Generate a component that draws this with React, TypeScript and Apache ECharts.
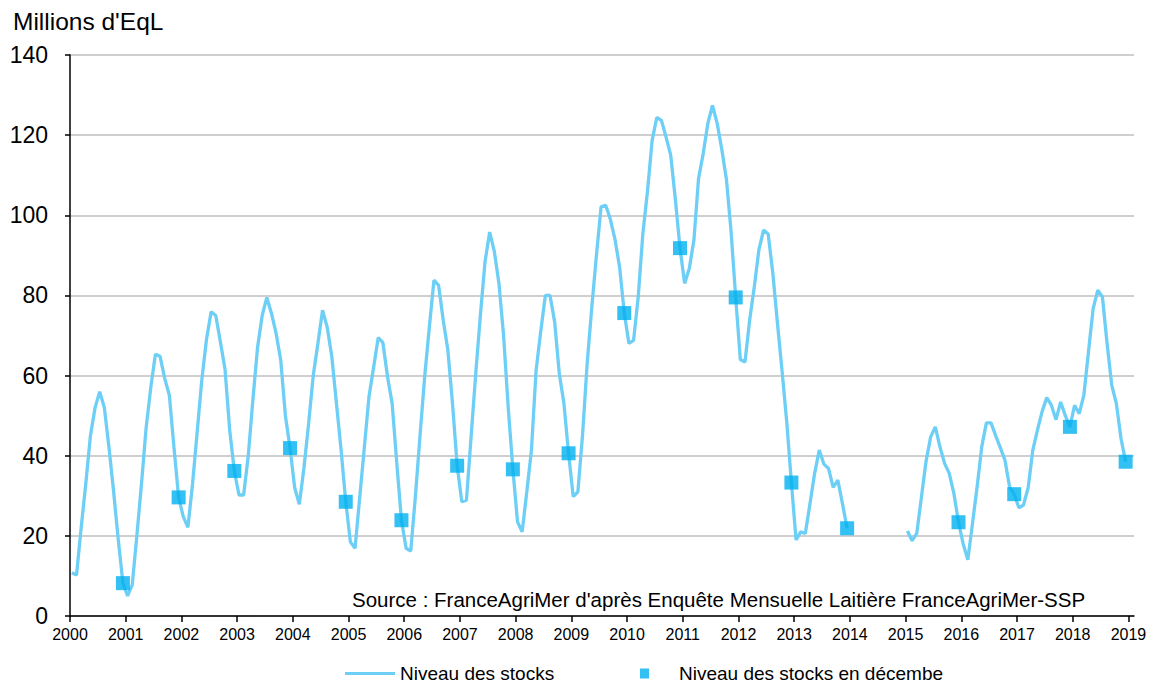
import React, { useEffect, useRef } from "react";
import * as echarts from "echarts";

// Years covered by the monthly series (Jan..Dec each)
const years = [2000, 2001, 2002, 2003, 2004, 2005, 2006, 2007, 2008, 2009, 2010, 2011, 2012, 2013, 2014, 2015, 2016, 2017, 2018];

// Monthly stock levels (millions d'EqL), Jan..Dec
const stocks2000 = [10.8, 10.2, 22, 33, 45, 52, 56, 52, 42, 31, 19, 8.2];
const stocks2001 = [5.0, 7.7, 20, 33, 47, 57, 65.3, 64.8, 59.3, 55.1, 42, 29.6];
const stocks2002 = [24.8, 22.1, 33, 46, 59, 69, 75.9, 75.0, 68.4, 61.5, 46.4, 36.2];
const stocks2003 = [30.2, 30.2, 40, 54, 67, 75, 79.5, 75.5, 70.5, 63.8, 50, 41.9];
const stocks2004 = [32, 27.9, 37, 48, 60, 68, 76.3, 72.1, 64.7, 53, 41.4, 28.5];
const stocks2005 = [18.5, 16.9, 29.5, 42, 54.7, 62, 69.5, 68.2, 59.7, 53, 38, 23.9];
const stocks2006 = [16.9, 16.2, 29.8, 45, 59.7, 72, 83.8, 82.5, 73.8, 66.3, 53, 37.5];
const stocks2007 = [28.5, 28.9, 44.7, 60.5, 75, 88.4, 95.8, 91, 83, 70, 52, 36.6];
const stocks2008 = [23.5, 21.0, 31, 41.4, 61.3, 71, 80, 80, 73.4, 60.5, 53, 40.6];
const stocks2009 = [29.8, 31, 45, 63, 77, 90, 102.1, 102.5, 99, 94, 87, 75.6];
const stocks2010 = [68, 68.8, 79.6, 95.4, 106, 118.7, 124.4, 123.7, 119.5, 115, 104, 91.8];
const stocks2011 = [83, 86.7, 93.8, 109.2, 115.4, 122.9, 127.4, 123, 116.5, 109, 96, 79.5];
const stocks2012 = [64, 63.4, 73.8, 82.1, 91.4, 96.3, 95.3, 85.5, 73, 61, 48.4, 33.3];
const stocks2013 = [19, 21, 20.6, 28, 35.6, 41.4, 37.9, 36.8, 32.1, 33.9, 28, 21.9];
const stocks2014 = [null, null, null, null, null, null, null, null, null, null, null, null];
const stocks2015 = [21.2, 18.8, 20.6, 29.6, 38.6, 44.7, 47.2, 42.2, 38.1, 35.6, 30.6, 23.4];
const stocks2016 = [18, 14, 23, 32.2, 42.2, 48.2, 48.2, 45, 42, 38.9, 32.2, 30.4];
const stocks2017 = [27.0, 27.7, 32, 41.4, 46.4, 51, 54.5, 52.6, 49, 53.4, 50, 47.2];
const stocks2018 = [52.6, 50.5, 55.1, 66, 76.7, 81.3, 79.6, 68, 57.6, 53, 44.3, 38.5];

const monthlyStocks = [
  stocks2000, stocks2001, stocks2002, stocks2003, stocks2004, stocks2005, stocks2006,
  stocks2007, stocks2008, stocks2009, stocks2010, stocks2011, stocks2012, stocks2013,
  stocks2014, stocks2015, stocks2016, stocks2017, stocks2018,
];

// December stock levels (markers)
const decemberStocks = [8.2, 29.6, 36.2, 41.9, 28.5, 23.9, 37.5, 36.6, 40.6, 75.6, 91.8, 79.5, 33.3, 21.9, null, 23.4, 30.4, 47.2, 38.5];

// Axis tick labels
const xTickLabels = [2000, 2001, 2002, 2003, 2004, 2005, 2006, 2007, 2008, 2009, 2010, 2011, 2012, 2013, 2014, 2015, 2016, 2017, 2018, 2019];
const yTicks = [0, 20, 40, 60, 80, 100, 120, 140];

const seriesNames = ["Niveau des stocks", "Niveau des stocks en décembe"];
const titleText = "Millions d'EqL";
const sourceText = "Source : FranceAgriMer d'après Enquête Mensuelle Laitière FranceAgriMer-SSP";

const MONTH_OFFSET = 0.4;
const FONT = "'Liberation Sans', Arial, sans-serif";
const LINE_COLOR = "#6DCFF6";
const MARKER_COLOR = "#00B0F0";

export default function App() {
  const ref = useRef<HTMLDivElement>(null);

  useEffect(() => {
    if (!ref.current) return;
    const chart = echarts.init(ref.current, null, { renderer: "svg" });

    const lineData: any[] = [];
    years.forEach((y, yi) => {
      monthlyStocks[yi].forEach((v, m) => {
        lineData.push([y + (m + MONTH_OFFSET) / 12, v === null ? "-" : v]);
      });
    });
    const decData: any[] = [];
    years.forEach((y, yi) => {
      const v = decemberStocks[yi];
      if (v !== null) decData.push([y + (11 + MONTH_OFFSET) / 12, v]);
    });

    chart.setOption({
      animation: false,
      textStyle: { fontFamily: FONT },
      title: {
        text: titleText,
        left: 8,
        top: 4,
        textStyle: { fontFamily: FONT, fontSize: 24.5, fontWeight: "normal", color: "#000" },
      },
      grid: { left: 70, right: 22, top: 55, bottom: 71, containLabel: false },
      xAxis: {
        type: "value",
        min: xTickLabels[0],
        max: xTickLabels[xTickLabels.length - 1] + 0.1,
        interval: 1,
        axisLine: { show: true, onZero: false, lineStyle: { color: "#000", width: 1.5 } },
        axisTick: { show: true, inside: false, length: 6, customValues: xTickLabels, lineStyle: { color: "#000", width: 1.5 } },
        axisLabel: {
          customValues: xTickLabels,
          formatter: (v: number) => String(Math.round(v)),
          fontSize: 16,
          color: "#000",
          margin: 10,
          fontFamily: FONT,
        },
        splitLine: { show: false },
      },
      yAxis: {
        type: "value",
        min: yTicks[0],
        max: yTicks[yTicks.length - 1],
        interval: 20,
        axisLine: { show: true, lineStyle: { color: "#000", width: 1.5 } },
        axisTick: { show: true, inside: false, length: 5, lineStyle: { color: "#000", width: 1.5 } },
        axisLabel: { fontSize: 23, color: "#000", margin: 22, fontFamily: FONT },
        splitLine: { show: true, lineStyle: { color: "#BFBFBF", width: 1.5 } },
      },
      legend: [
        {
          data: [{ name: seriesNames[0], icon: "rect" }],
          left: 345,
          top: 664,
          padding: 0,
          itemWidth: 50,
          itemHeight: 3,
          itemStyle: { color: LINE_COLOR },
          textStyle: { fontSize: 19, lineHeight: 18, color: "#000", fontFamily: FONT },
        },
        {
          data: [{ name: seriesNames[1], icon: "rect" }],
          left: 640,
          top: 664,
          padding: 0,
          itemWidth: 9,
          itemHeight: 10,
          itemStyle: { color: MARKER_COLOR },
          textStyle: { fontSize: 19, lineHeight: 18, color: "#000", fontFamily: FONT, padding: [0, 0, 0, 25] },
        },
      ],
      graphic: [
        {
          type: "text",
          left: 352,
          top: 589,
          style: { text: sourceText, fontSize: 20.5, fill: "#000", fontFamily: FONT },
        },
      ],
      series: [
        {
          name: seriesNames[0],
          type: "line",
          data: lineData,
          symbol: "none",
          connectNulls: false,
          lineStyle: { color: LINE_COLOR, width: 3.3 },
          itemStyle: { color: LINE_COLOR },
          z: 2,
        },
        {
          name: seriesNames[1],
          type: "scatter",
          data: decData,
          symbol: "rect",
          symbolSize: 14,
          itemStyle: { color: MARKER_COLOR },
          z: 3,
        },
      ],
    });

    return () => chart.dispose();
  }, []);

  return (
    <div
      ref={ref}
      style={{ position: "fixed", left: 0, top: 0, width: 1156, height: 687, background: "#fff" }}
    />
  );
}
